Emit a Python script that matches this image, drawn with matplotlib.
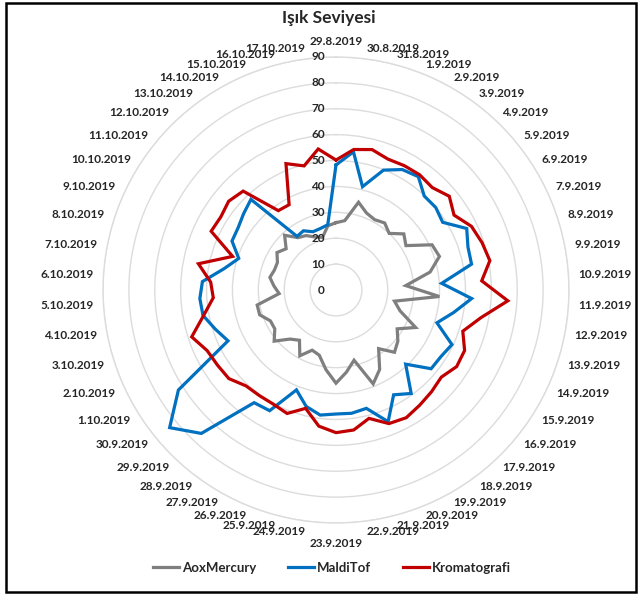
import numpy as np
import matplotlib
matplotlib.use('Agg')
import matplotlib.pyplot as plt
from matplotlib.lines import Line2D
from matplotlib.patches import Rectangle

# Kategoriler (tarihler)
dates = ['29.8.2019', '30.8.2019', '31.8.2019', '1.9.2019', '2.9.2019', '3.9.2019',
         '4.9.2019', '5.9.2019', '6.9.2019', '7.9.2019', '8.9.2019', '9.9.2019',
         '10.9.2019', '11.9.2019', '12.9.2019', '13.9.2019', '14.9.2019', '15.9.2019',
         '16.9.2019', '17.9.2019', '18.9.2019', '19.9.2019', '20.9.2019', '21.9.2019',
         '22.9.2019', '23.9.2019', '24.9.2019', '25.9.2019', '26.9.2019', '27.9.2019',
         '28.9.2019', '29.9.2019', '30.9.2019', '1.10.2019', '2.10.2019', '3.10.2019',
         '4.10.2019', '5.10.2019', '6.10.2019', '7.10.2019', '8.10.2019', '9.10.2019',
         '10.10.2019', '11.10.2019', '12.10.2019', '13.10.2019', '14.10.2019',
         '15.10.2019', '16.10.2019', '17.10.2019']

aox_mercury = [26, 27, 35, 32, 31, 32, 30, 34, 32, 41,
               42, 37, 27, 40, 23, 26, 34, 28, 31, 33,
               28, 35, 39, 28, 32, 36, 31, 26, 25, 29,
               24, 26, 31, 28, 28, 31, 31, 22, 24, 26,
               25, 25, 27, 25, 29, 25, 24, 22, 21, 25]

maldi_tof = [48.3, 53.8, 41.2, 49.8, 53.1, 54.1, 49.8, 50, 48.8, 55.8,
             53.6, 53.3, 40.9, 52.5, 46.3, 41, 49.5, 48, 47.7, 39.3,
             49.4, 46.2, 54.7, 47.2, 48, 47.9, 48.7, 46.4, 41.5, 53.2,
             53.8, 76, 83.4, 72.1, 46.1, 49, 52.3, 52.7, 51.7, 44,
             39.5, 44.4, 44.8, 46.3, 48, 25.6, 26.1, 24.2, 24.5, 25.4]

kromatografi = [50.2, 54.7, 56, 54.4, 54.8, 55, 54.3, 56.8, 54, 57.8,
                59.3, 60.5, 56.4, 66.5, 57, 51.5, 54.9, 55.2, 52.8, 53.9,
                55, 56.3, 55.5, 51.2, 54.5, 55.1, 53, 47.2, 51.3, 50.3,
                50.4, 50.8, 53.7, 54.2, 55, 58.6, 52, 47.5, 48.5, 54.1,
                42, 53.3, 52.7, 53.8, 52.4, 37.9, 37.6, 52.5, 49.5, 54.9]

series = [('AoxMercury', aox_mercury, '#7f7f7f'),
          ('MaldiTof', maldi_tof, '#0070c0'),
          ('Kromatografi', kromatografi, '#c00000')]

plt.rcParams['font.family'] = ['Lato', 'DejaVu Sans']
text_color = '#262626'

W, H = 644, 597
fig = plt.figure(figsize=(W / 100, H / 100), dpi=100)

# merkez ve yarıçap piksel olarak
cx, cy, R = 336, 290, 233
ax = fig.add_axes([(cx - R) / W, 1 - (cy + R) / H, 2 * R / W, 2 * R / H], projection='polar')
ax.set_theta_zero_location('N')
ax.set_theta_direction(-1)
ax.set_ylim(0, 90)

n = len(dates)
theta = np.arange(n) * 2 * np.pi / n

for name, vals, col in series:
    v = list(vals) + [vals[0]]
    t = list(theta) + [theta[0]]
    ax.plot(t, v, color=col, lw=2.3, solid_joinstyle='miter')

ax.set_yticks(range(0, 91, 10))
ax.set_yticklabels([])
ax.set_xticks([])
ax.yaxis.grid(True, color='#dcdcdc', lw=1)
ax.xaxis.grid(False)
ax.spines['polar'].set_color('#dcdcdc')
ax.spines['polar'].set_linewidth(1)

# radyal etiketler
for v in range(0, 91, 10):
    ax.annotate(str(v), xy=(0, v), xytext=(-8, 0), textcoords='offset points',
                ha='right', va='center', fontsize=8.5, fontweight='bold',
                color=text_color)

# tarih etiketleri
r_lab = 90 * 243 / 233
for i, (t, lab) in enumerate(zip(theta, dates)):
    s, c = np.sin(t), np.cos(t)
    r = r_lab
    if abs(s) < 0.05:
        ha = 'center'
        va = 'bottom' if c > 0 else 'top'
        if c < 0:
            r = 90 * 248 / 233
    else:
        ha = 'left' if s > 0 else 'right'
        va = 'center'
    ax.text(t, r, lab, ha=ha, va=va, fontsize=8.5, fontweight='bold',
            color=text_color, clip_on=False)

fig.text(329 / W, 1 - 18 / H, 'Işık Seviyesi', ha='center', va='center',
         fontsize=12.5, fontweight='bold', color=text_color)

handles = [Line2D([], [], color=col, lw=2.3) for _, _, col in series]
fig.legend(handles, [s[0] for s in series], loc='center', ncol=3,
           bbox_to_anchor=(332 / W, 1 - 568 / H), frameon=False,
           handlelength=2.0, handletextpad=0.2, columnspacing=2.4,
           prop={'weight': 'bold', 'size': 9.5}, labelcolor=text_color)

# çerçeve
fig.patches.append(Rectangle((6 / W, 1 - 592 / H), 630 / W, 589 / H,
                             transform=fig.transFigure, fill=False,
                             edgecolor='black', lw=1.8))

fig.savefig('out.png', dpi=100)
